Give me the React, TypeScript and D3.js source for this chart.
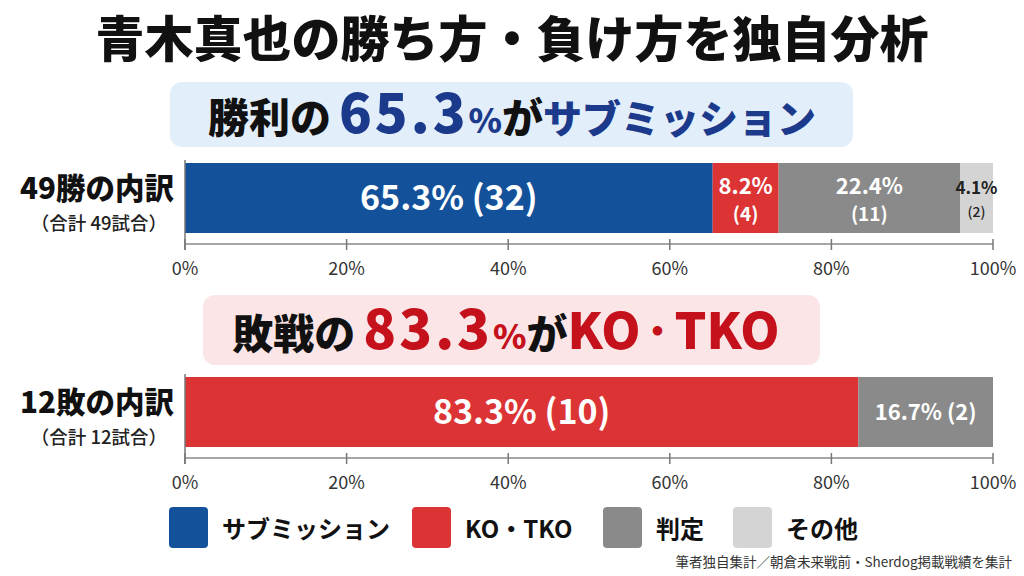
import React from "react";
import * as d3 from "d3";

// 決まり手カテゴリ
const categories = ["サブミッション", "KO・TKO", "判定", "その他"];
const colors = ["#13519b", "#dc3434", "#8a8a8a", "#d4d4d4"];

// 勝ち・負けの内訳（試合数）
const winCounts = [32, 4, 11, 2];
const lossCounts = [0, 10, 2, 0];

const rowLabels = ["49勝の内訳", "12敗の内訳"];
const rowSubLabels = ["（合計 49試合）", "（合計 12試合）"];

const tickValues = [0, 20, 40, 60, 80, 100];

const FONT = "'Noto Sans CJK JP', 'Noto Sans', sans-serif";
const W = 1024;
const H = 576;

const x = d3.scaleLinear().domain([0, 100]).range([185, 993]);
const fmt = d3.format(".1f");

function stackRow(counts: number[]) {
  const total = d3.sum(counts);
  let acc = 0;
  return counts
    .map((c, i) => {
      const pct = (c / total) * 100;
      const seg = { i, count: c, pct, start: acc, end: acc + pct };
      acc += pct;
      return seg;
    })
    .filter((s) => s.count > 0);
}

function Row({ counts, top, rowIndex }: { counts: number[]; top: number; rowIndex: number }) {
  const barH = 70;
  const segs = stackRow(counts);
  const axisY = top + barH + 11;
  return (
    <g>
      <text x={97} y={top + 36} textAnchor="middle" fontSize={29.5} fontWeight={900} fill="#111">
        {rowLabels[rowIndex]}
      </text>
      <text x={99} y={top + 67} textAnchor="middle" fontSize={18.5} fontWeight={500} fill="#222">
        {rowSubLabels[rowIndex]}
      </text>
      {segs.map((s) => {
        const x0 = x(s.start);
        const x1 = x(s.end);
        const w = x1 - x0;
        const cx = (x0 + x1) / 2;
        const cy = top + barH / 2;
        const p = fmt(s.pct) + "%";
        const c = `(${s.count})`;
        let label;
        if (w > 300) {
          label = (
            <text x={cx} y={cy + 12} textAnchor="middle" fontSize={34} fontWeight={700} fill="#fff">
              {p} {c}
            </text>
          );
        } else if (w < 60) {
          label = (
            <g fill="#222" textAnchor="middle">
              <text x={cx} y={cy - 4} fontSize={17} fontWeight={700}>{p}</text>
              <text x={cx} y={cy + 19} fontSize={14} fontWeight={500}>{c}</text>
            </g>
          );
        } else if (rowIndex === 0) {
          label = (
            <g fill="#fff" textAnchor="middle" fontWeight={700}>
              <text x={cx} y={cy - 4} fontSize={22}>{p}</text>
              <text x={cx} y={cy + 23} fontSize={19}>{c}</text>
            </g>
          );
        } else {
          label = (
            <text x={cx} y={cy + 8} textAnchor="middle" fontSize={22} fontWeight={700} fill="#fff">
              {p} {c}
            </text>
          );
        }
        return (
          <g key={s.i}>
            <rect x={x0} y={top} width={w} height={barH} fill={colors[s.i]} />
            {label}
          </g>
        );
      })}
      <line x1={x(0)} x2={x(0)} y1={top - 3} y2={axisY + 6} stroke="#777" strokeWidth={1.5} />
      <line x1={x(0)} x2={x(100)} y1={axisY} y2={axisY} stroke="#888" strokeWidth={1.5} />
      {tickValues.map((t) => (
        <g key={t}>
          <line x1={x(t)} x2={x(t)} y1={axisY - 5} y2={axisY + 6} stroke="#777" strokeWidth={1.5} />
          <text x={x(t)} y={axisY + 31} textAnchor="middle" fontSize={18} fill="#333">
            {t}%
          </text>
        </g>
      ))}
    </g>
  );
}

export default function App() {
  const legendX = [169, 412, 603, 733];
  return (
    <svg
      width={W}
      height={H}
      viewBox={`0 0 ${W} ${H}`}
      style={{ position: "absolute", left: 0, top: 0, background: "#fff" }}
      fontFamily={FONT}
    >
      <rect width={W} height={H} fill="#fff" />
      <text x={W / 2} y={57} textAnchor="middle" fontSize={49} fontWeight={900} fill="#111">
        青木真也の勝ち方・負け方を独自分析
      </text>

      {/* 勝利の見出し */}
      <rect x={170} y={82} width={683} height={65} rx={12} fill="#e3eefb" />
      <text x={512} y={133} textAnchor="middle" fontWeight={900} fill="#111">
        <tspan fontSize={41}>勝利の</tspan>
        <tspan fontSize={54} fill="#1b3a8c" dx={8} letterSpacing={3}>65.3</tspan>
        <tspan fontSize={34} fill="#1b3a8c">%</tspan>
        <tspan fontSize={41}>が</tspan>
        <tspan fontSize={39} fill="#1b3a8c">サブミッション</tspan>
      </text>

      <Row counts={winCounts} top={163} rowIndex={0} />

      {/* 敗戦の見出し */}
      <rect x={203} y={295} width={617} height={70} rx={12} fill="#fbe5e6" />
      <text x={506} y={349} textAnchor="middle" fontWeight={900} fill="#111">
        <tspan fontSize={41}>敗戦の</tspan>
        <tspan fontSize={54} fill="#c4111b" dx={8} letterSpacing={3}>83.3</tspan>
        <tspan fontSize={34} fill="#c4111b">%</tspan>
        <tspan fontSize={41}>が</tspan>
        <tspan fontSize={50} fill="#c4111b">KO</tspan>
        <tspan fontSize={34} fill="#c4111b" dy={-5}>・</tspan>
        <tspan fontSize={50} fill="#c4111b" dy={5}>TKO</tspan>
      </text>

      <Row counts={lossCounts} top={377} rowIndex={1} />

      {/* 凡例 */}
      {categories.map((c, i) => (
        <g key={c}>
          <rect x={legendX[i]} y={507} width={39} height={41} rx={4} fill={colors[i]} />
          <text x={legendX[i] + 53} y={537} dominantBaseline="middle" fontSize={24} fontWeight={700} fill="#111" dy={-6}>
            {c}
          </text>
        </g>
      ))}

      <text x={1012} y={567} textAnchor="end" fontSize={13.5} fill="#333">
        筆者独自集計／朝倉未来戦前・Sherdog掲載戦績を集計
      </text>
    </svg>
  );
}
